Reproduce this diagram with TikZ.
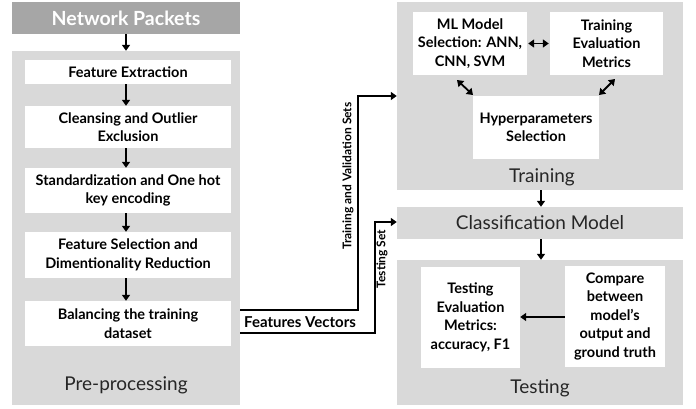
\documentclass[tikz,border=0pt]{standalone}
\usepackage{fontspec}
\setmainfont{Lato}
\usetikzlibrary{arrows.meta,calc}
\definecolor{panelgray}{HTML}{D9D9D9}
\definecolor{headgray}{HTML}{A6A6A6}
\definecolor{labelgray}{HTML}{262626}
\tikzset{
  panel/.style={fill=panelgray, draw=none, inner sep=0pt},
  wbox/.style={fill=white, draw=none, inner sep=0pt, align=center,
    font=\fontsize{14.5}{18.5}\selectfont\bfseries, text=black},
  plabel/.style={font=\fontsize{19}{22}\selectfont, text=labelgray, inner sep=0pt},
  tip/.tip={Triangle[length=6pt,width=8pt]},
  arr/.style={line width=1.8pt, -tip},
  darr/.style={line width=1.8pt, tip-tip},
  conn/.style={line width=1.8pt},
  rlabel/.style={rotate=90, font=\fontsize{12}{14}\selectfont\bfseries, inner sep=0pt}
}
\begin{document}
\begin{tikzpicture}[x=1pt,y=-1pt]
\useasboundingbox (0,0) rectangle (696,409);
% Left column
\node[panel, fill=headgray, minimum width=228pt, minimum height=32pt, text=white,
  font=\fontsize{19.5}{22}\selectfont\bfseries] (np) at (126,18) {Network Packets};
\node[panel, minimum width=228pt, minimum height=354pt] (pre) at (126,228) {};
\node[wbox, minimum width=206pt, minimum height=24pt] (fe) at (128,72) {Feature Extraction};
\node[wbox, minimum width=206pt, minimum height=42pt] (cl) at (128,127) {Cleansing and Outlier\\Exclusion};
\node[wbox, minimum width=206pt, minimum height=45pt] (st) at (128,190.5) {Standardization and One hot\\key encoding};
\node[wbox, minimum width=206pt, minimum height=46pt] (fs) at (128,255) {Feature Selection and\\Dimentionality Reduction};
\node[wbox, minimum width=206pt, minimum height=45pt] (ba) at (128,323.5) {Balancing the training\\dataset};
\node[plabel] (prel) at (126,385) {Pre-processing};
\draw[arr] (np.south -| 126,0) -- (pre.north -| 126,0);
\draw[arr] (fe.south -| 126,0) -- (cl.north -| 126,0);
\draw[arr] (cl.south -| 126,0) -- (st.north -| 126,0);
\draw[arr] (st.south -| 126,0) -- (fs.north -| 126,0);
\draw[arr] (fs.south -| 126,0) -- (ba.north -| 126,0);
% Right column
\node[panel, minimum width=286pt, minimum height=188pt] (train) at (540,96) {};
\node[wbox, minimum width=114pt, minimum height=63pt] (ml) at (470,43.5) {ML Model\\Selection: ANN,\\CNN, SVM};
\node[wbox, minimum width=113pt, minimum height=63pt] (te) at (606.5,43.5) {Training\\Evaluation\\Metrics};
\node[wbox, minimum width=126pt, minimum height=63pt] (hp) at (536,127.5) {Hyperparameters\\Selection};
\node[plabel] (trl) at (542,177) {Training};
\draw[darr] ($(ml.east)+(1,0)$) -- ($(te.west)+(-1,0)$);
\node[panel, minimum width=286pt, minimum height=32pt, font=\fontsize{19}{22}\selectfont, text=labelgray] (cm) at (540,223) {Classification Model};
\node[panel, minimum width=286pt, minimum height=145pt] (test) at (540,332.5) {};
\node[wbox, minimum width=99pt, minimum height=101pt] (tev) at (470.5,317.5) {Testing\\Evaluation\\Metrics:\\accuracy, F1};
\node[wbox, minimum width=100pt, minimum height=101pt] (cmp) at (615,316.5) {Compare\\between\\model’s\\output and\\ground truth};
\node[plabel] (tsl) at (540,388) {Testing};
\coordinate (d1a) at (457,80); \coordinate (d1b) at (473,95);
\coordinate (d2a) at (615,79); \coordinate (d2b) at (599,95);
\draw[darr] (d1a) -- (d1b);
\draw[darr] (d2a) -- (d2b);
\draw[arr] (train.south -| 541,0) -- (cm.north -| 541,0);
\draw[arr] (cm.south -| 541,0) -- (test.north -| 541,0);
\draw[arr] (cmp.west |- 0,317) -- (tev.east |- 0,317);
% Connectors
\coordinate (o1) at (240,310);
\coordinate (o2) at (240,333);
\draw[conn,-tip] (o1) -- (358,310) -- (358,96) -- (train.west |- 0,96);
\draw[conn,-tip] (o2) -- (375,333) -- (375,222) -- (cm.west |- 0,222);
\node[font=\fontsize{15}{17}\selectfont\bfseries, anchor=west, inner sep=0pt] (fv) at (244,322) {Features Vectors};
\node[rlabel] (tvs) at (348,176) {Training and Validation Sets};
\node[rlabel] (tss) at (382,259) {Testing Set};
\end{tikzpicture}
\end{document}
